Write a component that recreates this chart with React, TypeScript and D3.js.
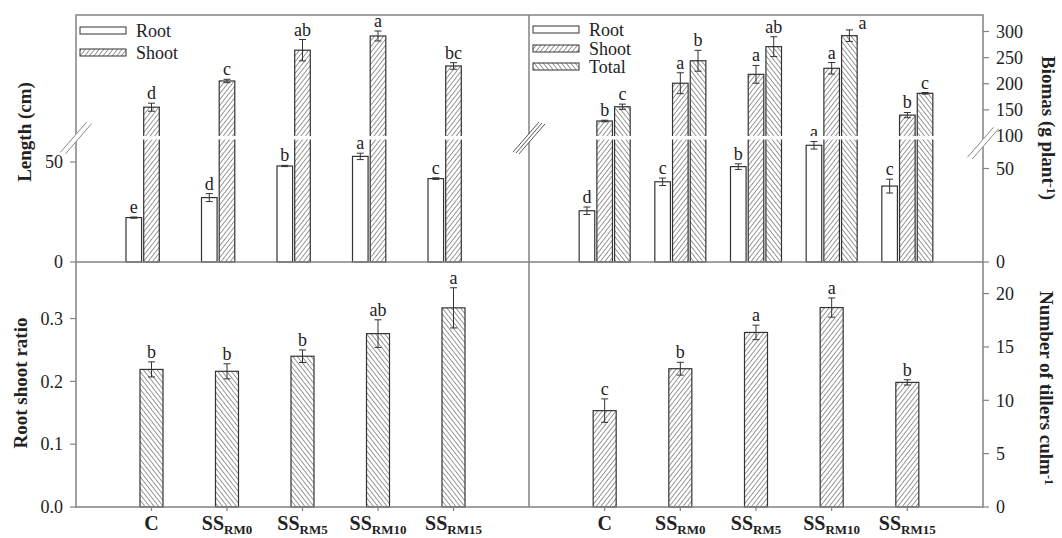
import React from "react";
import * as d3 from "d3";

// treatments
const categories = ["C", "RM0", "RM5", "RM10", "RM15"];

// length (cm)
const lengthRoot = [22.2, 32.2, 48, 52.8, 41.7];
const lengthRootErr = [0.3, 2, 0.3, 1.6, 0.4];
const lengthRootLetters = ["e", "d", "b", "a", "c"];
const lengthShoot = [148, 191.7, 243, 266.7, 216.7];
const lengthShootErr = [6.7, 2.8, 17.8, 8.3, 5.5];
const lengthShootLetters = ["d", "c", "ab", "a", "bc"];
const lengthTicks = [0, 50];

// biomass (g plant-1)
const biomassRoot = [27.4, 42.9, 51, 62.4, 40.6];
const biomassRootErr = [2, 2, 1.5, 2, 3.7];
const biomassRootLetters = ["d", "c", "b", "a", "c"];
const biomassShoot = [128.7, 201, 218, 229.6, 140];
const biomassShootErr = [1.5, 20, 17, 11, 5];
const biomassShootLetters = ["b", "a", "a", "a", "b"];
const biomassTotal = [156, 244, 271, 292, 181.7];
const biomassTotalErr = [5, 20, 19, 11, 1.5];
const biomassTotalLetters = ["c", "b", "ab", "a", "c"];
const biomassTicks = [0, 50, 100, 150, 200, 250, 300];

// root shoot ratio
const ratio = [0.219, 0.216, 0.24, 0.276, 0.317];
const ratioErr = [0.012, 0.012, 0.01, 0.022, 0.032];
const ratioLetters = ["b", "b", "b", "ab", "a"];
const ratioTicks = [0, 0.1, 0.2, 0.3];

// tillers culm-1
const tillers = [9.03, 12.96, 16.36, 18.69, 11.68];
const tillersErr = [1.1, 0.6, 0.68, 0.9, 0.25];
const tillersLetters = ["c", "b", "a", "a", "b"];
const tillerTicks = [0, 5, 10, 15, 20];

// letters that sit beside the bar instead of above it
const sideLetters = ["total-RM10"];

const W = 1062;
const H = 538;
const L = 76;
const M = 529;
const R = 983;
const T = 15;
const MID = 262;
const B = 507;
const GAP_TOP = 136;
const GAP_BOT = 139.5;

const FONT = "'Liberation Serif', 'Times New Roman', serif";
const FRAME = "#828282";
const INK = "#222";

const xLeft = d3.scalePoint<string>().domain(categories).range([L, M]).padding(1);
const xRight = d3.scalePoint<string>().domain(categories).range([M, R]).padding(1);
const slot = d3.scaleBand<string>().domain(["root", "shoot", "total"]).range([-25.5, 25.5]).paddingInner(0.12);

const lengthBreak = 61;
const lengthLow = d3.scaleLinear().domain([0, 50]).range([MID, MID - 100]);
const lengthHigh = d3.scaleLinear().domain([100, 300]).range([GAP_TOP, 16]);
const yLength = (v: number) => (v <= lengthBreak ? lengthLow(v) : lengthHigh(v));

const biomassBreak = 65;
const biomassLow = d3.scaleLinear().domain([0, 50]).range([MID, 168.5]);
const biomassHigh = d3.scaleLinear().domain([100, 300]).range([GAP_TOP, 31.5]);
const yBiomass = (v: number) => (v <= biomassBreak ? biomassLow(v) : biomassHigh(v));

const yRatio = d3.scaleLinear().domain([0, 0.39]).range([B, MID]);
const yTillers = d3.scaleLinear().domain([0, 22.96]).range([B, MID]);

type Series = {
  key: string;
  values: number[];
  err: number[];
  letters: string[];
  fill: string;
};

function Bars({ x, y, base, series, width, offset }: any) {
  return (
    <g>
      {series.map((s: Series) =>
        s.values.map((v, i) => {
          const cx = x(categories[i]) + offset(s.key);
          const top = y(v);
          const hi = y(v + s.err[i]);
          const lo = y(v - s.err[i]);
          let lx = cx;
          let ly = hi - 4;
          if (sideLetters.includes(s.key + "-" + categories[i])) {
            lx = cx + 13;
            ly = hi - 1;
          }
          return (
            <g key={s.key + i}>
              <rect x={cx - width / 2} y={top} width={width} height={base - top}
                fill={s.fill} stroke="#333" strokeWidth={1.2} />
              <line x1={cx} x2={cx} y1={hi} y2={lo} stroke="#333" strokeWidth={1} />
              <line x1={cx - 3.5} x2={cx + 3.5} y1={hi} y2={hi} stroke="#333" strokeWidth={1} />
              <line x1={cx - 3.5} x2={cx + 3.5} y1={lo} y2={lo} stroke="#333" strokeWidth={1} />
              <text x={lx} y={ly} textAnchor="middle" fontSize={18} fill={INK}>{s.letters[i]}</text>
            </g>
          );
        })
      )}
    </g>
  );
}

function XLabels({ x }: any) {
  return (
    <g>
      {categories.map((c) => (
        <g key={c}>
          <line x1={x(c)} x2={x(c)} y1={B} y2={B + 4} stroke={FRAME} strokeWidth={1.2} />
          <text x={x(c)} y={530} textAnchor="middle" fontSize={20} fontWeight="bold" fill={INK}>
            {c === "C" ? "C" : "SS"}
            {c !== "C" && <tspan fontSize={13} dy={4}>{c}</tspan>}
          </text>
        </g>
      ))}
    </g>
  );
}

function BreakMark({ cx, cy, n }: { cx: number; cy: number; n: number }) {
  const dx = 13;
  const dy = 15;
  const offs = n === 2 ? [-2.5, 2.5] : [-3, 0, 3];
  return (
    <g>
      <line x1={cx - dx} y1={cy + dy} x2={cx + dx} y2={cy - dy} stroke="white" strokeWidth={5} />
      {offs.map((o) => (
        <line key={o} x1={cx - dx + o} y1={cy + dy + o * 0.3} x2={cx + dx + o} y2={cy - dy + o * 0.3}
          stroke={n === 2 ? "#888" : "#555"} strokeWidth={1} />
      ))}
    </g>
  );
}

export default function App() {
  const lengthSeries: Series[] = [
    { key: "root", values: lengthRoot, err: lengthRootErr, letters: lengthRootLetters, fill: "white" },
    { key: "shoot", values: lengthShoot, err: lengthShootErr, letters: lengthShootLetters, fill: "url(#hatchF)" },
  ];
  const biomassSeries: Series[] = [
    { key: "root", values: biomassRoot, err: biomassRootErr, letters: biomassRootLetters, fill: "white" },
    { key: "shoot", values: biomassShoot, err: biomassShootErr, letters: biomassShootLetters, fill: "url(#hatchF)" },
    { key: "total", values: biomassTotal, err: biomassTotalErr, letters: biomassTotalLetters, fill: "url(#hatchB)" },
  ];
  const ratioSeries: Series[] = [
    { key: "ratio", values: ratio, err: ratioErr, letters: ratioLetters, fill: "url(#hatchB)" },
  ];
  const tillerSeries: Series[] = [
    { key: "tillers", values: tillers, err: tillersErr, letters: tillersLetters, fill: "url(#hatchF)" },
  ];
  const bw = slot.bandwidth();
  const slotOffset = (k: string) => (slot(k) as number) + bw / 2;

  const legendLeft = [
    { label: "Root", fill: "white", y: 37 },
    { label: "Shoot", fill: "url(#hatchF)", y: 59 },
  ];
  const legendRight = [
    { label: "Root", fill: "white", y: 36 },
    { label: "Shoot", fill: "url(#hatchF)", y: 55 },
    { label: "Total", fill: "url(#hatchB)", y: 73 },
  ];

  return (
    <div style={{ position: "absolute", left: 0, top: 0 }}>
      <svg width={W} height={H} fontFamily={FONT} style={{ display: "block", background: "white" }}>
        <defs>
          <pattern id="hatchF" patternUnits="userSpaceOnUse" width={3.6} height={3.6} patternTransform="rotate(38)">
            <rect width={3.6} height={3.6} fill="white" />
            <line x1={0} y1={0} x2={0} y2={3.6} stroke="#333" strokeWidth={1} />
          </pattern>
          <pattern id="hatchB" patternUnits="userSpaceOnUse" width={3.6} height={3.6} patternTransform="rotate(-38)">
            <rect width={3.6} height={3.6} fill="white" />
            <line x1={0} y1={0} x2={0} y2={3.6} stroke="#333" strokeWidth={1} />
          </pattern>
        </defs>

        {/* top left: length */}
        <Bars x={xLeft} y={yLength} base={MID} series={lengthSeries} width={bw} offset={slotOffset} />
        {/* top right: biomass */}
        <Bars x={xRight} y={yBiomass} base={MID} series={biomassSeries} width={bw} offset={slotOffset} />
        {/* bottom left: ratio */}
        <Bars x={xLeft} y={yRatio} base={B} series={ratioSeries} width={23} offset={() => 0} />
        {/* bottom right: tillers */}
        <Bars x={xRight} y={yTillers} base={B} series={tillerSeries} width={23} offset={() => 0} />

        {/* axis break gap */}
        <rect x={L + 1} y={GAP_TOP} width={M - L - 2} height={GAP_BOT - GAP_TOP} fill="white" />
        <rect x={M + 1} y={GAP_TOP} width={R - M - 2} height={GAP_BOT - GAP_TOP} fill="white" />

        {/* frames */}
        <g stroke={FRAME} strokeWidth={1.5} fill="none">
          <rect x={L} y={T} width={R - L} height={B - T} />
          <line x1={M} x2={M} y1={T} y2={B} />
          <line x1={L} x2={R} y1={MID} y2={MID} />
        </g>

        <BreakMark cx={L} cy={138} n={2} />
        <BreakMark cx={M} cy={138} n={3} />
        <BreakMark cx={R} cy={143} n={2} />

        {/* left ticks */}
        {lengthTicks.map((t) => (
          <g key={"lt" + t}>
            <line x1={L - 6} x2={L} y1={yLength(t)} y2={yLength(t)} stroke={FRAME} strokeWidth={1.2} />
            <text x={L - 13} y={yLength(t)} dy="0.35em" textAnchor="end" fontSize={18} fill={INK}>{t}</text>
          </g>
        ))}
        {ratioTicks.map((t) => (
          <g key={"rt" + t}>
            <line x1={L - 6} x2={L} y1={yRatio(t)} y2={yRatio(t)} stroke={FRAME} strokeWidth={1.2} />
            <text x={L - 13} y={yRatio(t)} dy="0.35em" textAnchor="end" fontSize={18} fill={INK}>{t.toFixed(1)}</text>
          </g>
        ))}
        {/* right ticks */}
        {biomassTicks.map((t) => (
          <g key={"bt" + t}>
            {t !== 100 && (
              <line x1={R} x2={R + 6} y1={yBiomass(t)} y2={yBiomass(t)} stroke={FRAME} strokeWidth={1.2} />
            )}
            <text x={R + 13} y={yBiomass(t)} dy="0.35em" textAnchor="start" fontSize={18} fill={INK}>{t}</text>
          </g>
        ))}
        {tillerTicks.map((t) => (
          <g key={"tt" + t}>
            <line x1={R} x2={R + 6} y1={yTillers(t)} y2={yTillers(t)} stroke={FRAME} strokeWidth={1.2} />
            {t !== 0 && (
              <text x={R + 13} y={yTillers(t)} dy="0.35em" textAnchor="start" fontSize={18} fill={INK}>{t}</text>
            )}
          </g>
        ))}
        <text x={R + 13} y={B} dy="0.35em" fontSize={18} fill={INK}>0</text>

        <XLabels x={xLeft} />
        <XLabels x={xRight} />

        {/* legends */}
        {legendLeft.map((d) => (
          <g key={"ll" + d.label}>
            <rect x={80} y={d.y - 10} width={46} height={7} fill={d.fill} stroke="#333" strokeWidth={1} />
            <text x={136} y={d.y} fontSize={18} fill={INK}>{d.label}</text>
          </g>
        ))}
        {legendRight.map((d) => (
          <g key={"lr" + d.label}>
            <rect x={533} y={d.y - 10} width={46} height={7} fill={d.fill} stroke="#333" strokeWidth={1} />
            <text x={589} y={d.y} fontSize={18} fill={INK}>{d.label}</text>
          </g>
        ))}

        {/* axis titles */}
        <text transform="translate(31,132) rotate(-90)" textAnchor="middle" fontSize={19} fontWeight="bold" fill={INK}>
          Length (cm)
        </text>
        <text transform="translate(27,383) rotate(-90)" textAnchor="middle" fontSize={19} fontWeight="bold" fill={INK}>
          Root shoot ratio
        </text>
        <text transform="translate(1042,128) rotate(90)" textAnchor="middle" fontSize={19} fontWeight="bold" fill={INK}>
          Biomas (g plant<tspan fontSize={12} dy={-5}>-1</tspan><tspan dy={5}>)</tspan>
        </text>
        <text transform="translate(1040,388) rotate(90)" textAnchor="middle" fontSize={19} fontWeight="bold" fill={INK}>
          Number of tillers culm<tspan fontSize={12} dy={-5}>-1</tspan>
        </text>
      </svg>
    </div>
  );
}
